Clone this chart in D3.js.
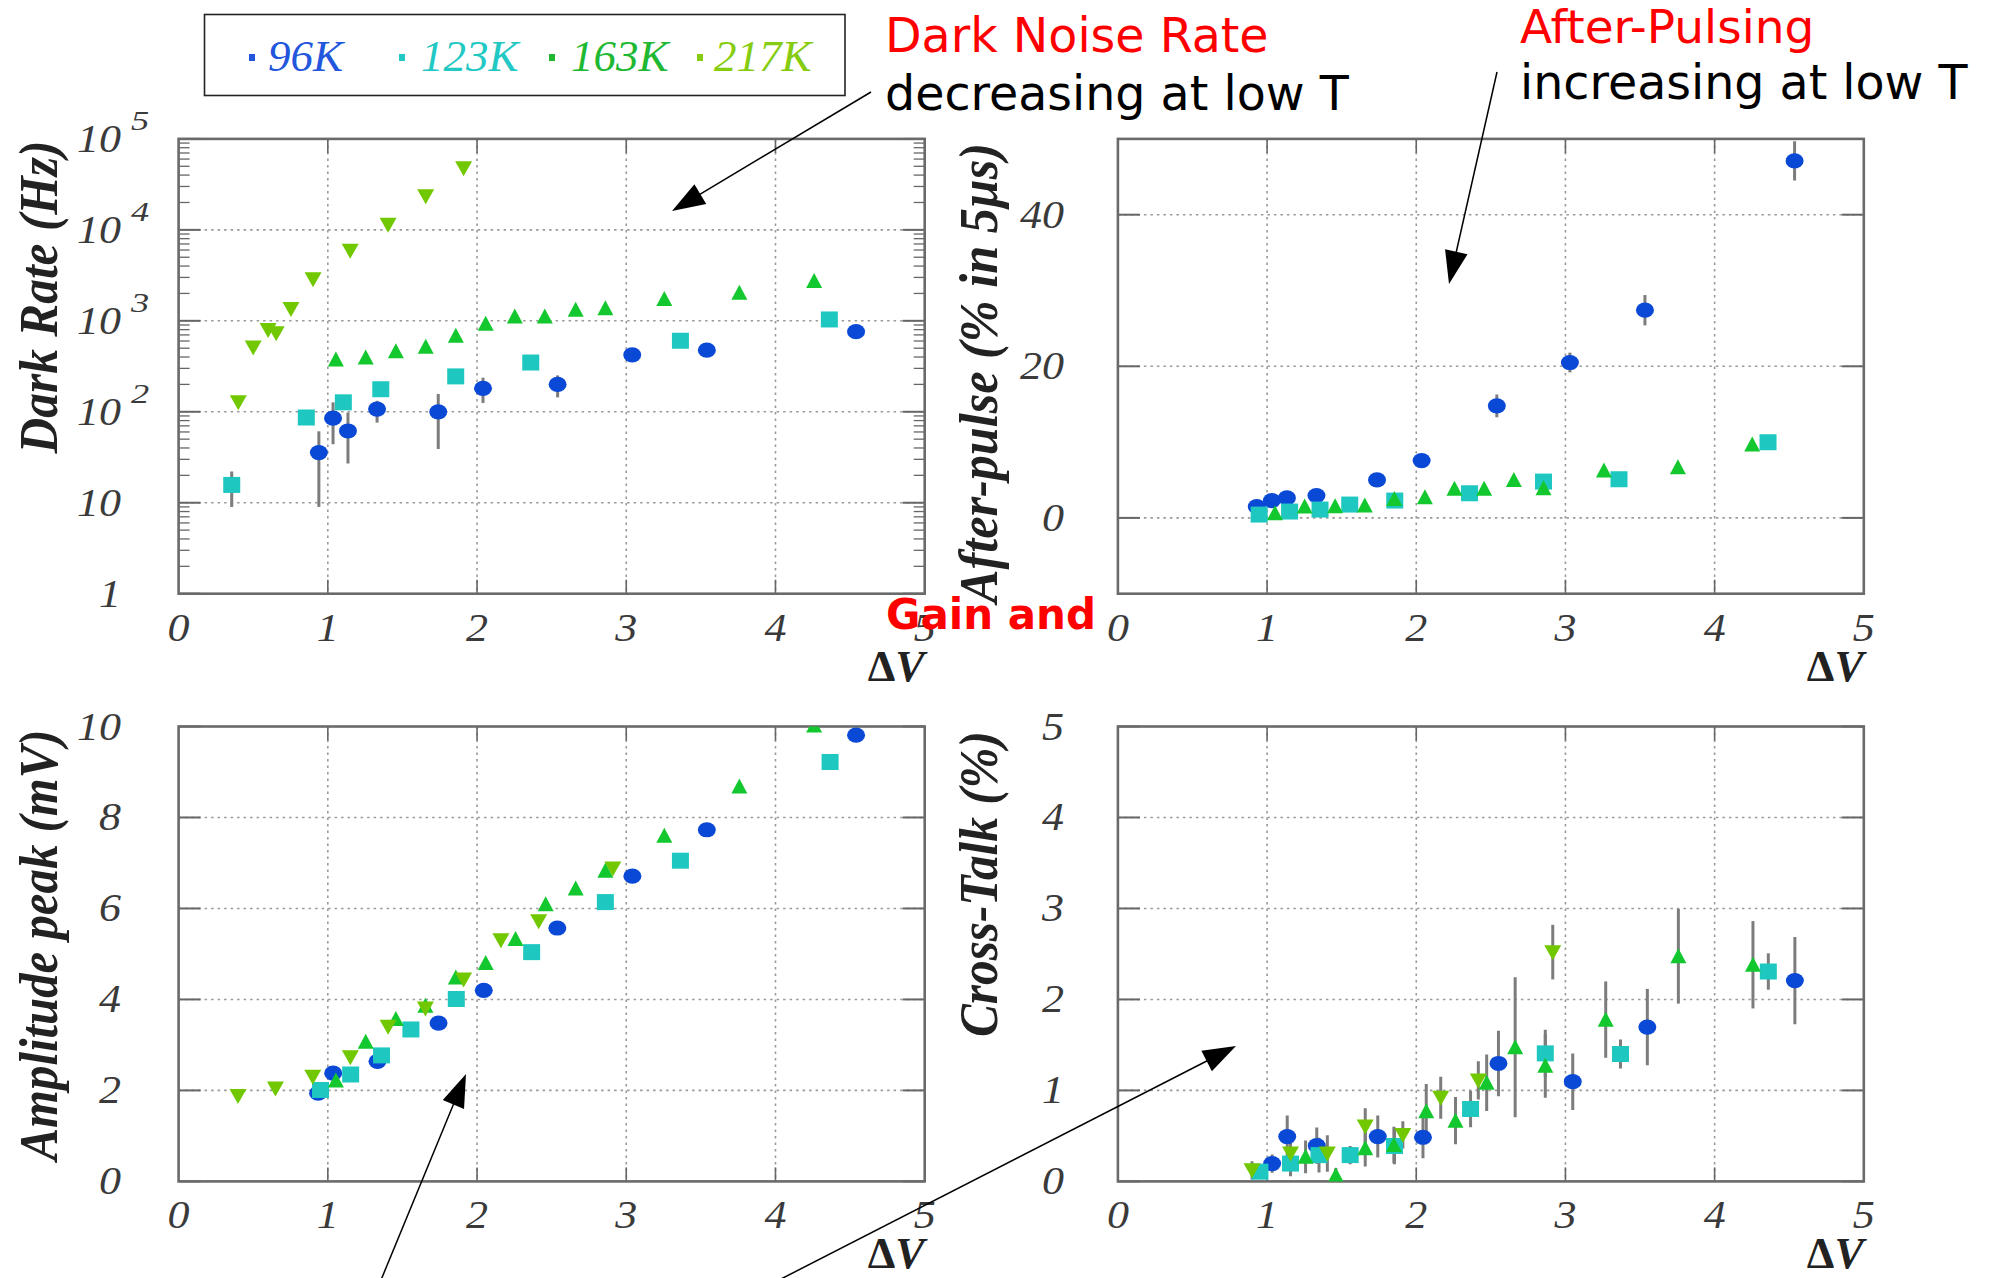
<!DOCTYPE html>
<html><head><meta charset="utf-8">
<script src="https://cdn.jsdelivr.net/npm/d3@7"></script>
<style>body{margin:0;background:#fff}svg{display:block}</style>
</head><body><svg id="c" width="1993" height="1278"></svg>
<script>
// ---------------- DATA ----------------
const seriesNames = ["96K", "123K", "163K", "217K"];
const dVTicks = [0, 1, 2, 3, 4, 5];
const darkTicks = [1, 10, 100, 1000, 10000, 100000];
const apTicks = [0, 20, 40];
const ampTicks = [0, 2, 4, 6, 8, 10];
const ctTicks = [0, 1, 2, 3, 4, 5];

// Dark rate (Hz): [dV, value, errLow, errHigh]
const dark96 = [[0.94,35.6,9,61],[1.035,85,44,127],[1.135,61.5,27,98],[1.33,107,76,132],[1.74,100,39,157],[2.04,181,125,237],[2.54,200,144,251],[3.04,423,385,460],[3.54,476,null,null],[4.54,760,null,null]];
const dark123 = [[0.356,15.7,9,22],[0.856,86.5,null,null],[1.104,127,null,null],[1.355,177,null,null],[1.857,245,null,null],[2.36,348,null,null],[3.363,604,null,null],[4.361,1035,null,null]];
const dark163 = [[1.054,375],[1.254,395],[1.456,464],[1.656,519],[1.858,687],[2.058,926],[2.253,1117],[2.454,1117],[2.661,1325],[2.86,1371],[3.255,1741],[3.758,2029],[4.259,2735]];
const dark217 = [[0.40,127],[0.50,510],[0.60,794],[0.654,730],[0.753,1349],[0.901,2856],[1.15,5890],[1.404,11370],[1.656,23450],[1.91,47600]];

// After-pulse (% in 5us): [dV, value, err]
const ap96 = [[0.931,1.5,0],[1.032,2.29,0],[1.133,2.64,0],[1.331,2.95,0],[1.737,5.01,0],[2.036,7.56,0],[2.54,14.78,1.5],[3.03,20.5,1.3],[3.533,27.4,2.0],[4.536,47.1,2.6]];
const ap123 = [[0.947,0.44,0],[1.151,0.84,0],[1.355,1.1,0],[1.554,1.76,0],[1.856,2.29,0],[2.357,3.25,0],[2.853,4.79,0],[3.359,5.1,0],[4.358,9.98,0]];
const ap163 = [[1.053,0.62,0],[1.252,1.5,0],[1.456,1.54,0],[1.655,1.63,0],[1.853,2.5,0],[2.058,2.73,0],[2.256,3.83,0],[2.455,3.83,0],[2.654,5.0,0],[2.853,3.9,0],[3.258,6.24,0],[3.754,6.68,0],[4.252,9.67,0]];
const ap217 = [];

// Amplitude peak (mV): [dV, value]
const amp96 = [[0.935,1.94],[1.036,2.38],[1.333,2.64],[1.742,3.48],[2.045,4.2],[2.538,5.57],[3.041,6.71],[3.54,7.73],[4.54,9.81]];
const amp123 = [[0.951,2.01],[1.153,2.35],[1.36,2.77],[1.557,3.34],[1.861,4.01],[2.366,5.04],[2.86,6.14],[3.363,7.05],[4.366,9.22]];
const amp163 = [[1.054,2.22],[1.254,3.07],[1.456,3.57],[1.654,3.86],[1.858,4.48],[2.058,4.8],[2.258,5.33],[2.46,6.09],[2.661,6.44],[2.86,6.83],[3.255,7.6],[3.758,8.68],[4.259,10.02]];
const amp217 = [[0.398,1.88],[0.649,2.04],[0.899,2.30],[1.151,2.73],[1.404,3.40],[1.654,3.80],[1.91,4.44],[2.16,5.30],[2.413,5.72],[2.91,6.88]];

// Cross-talk (%): [dV, value, err]
const ct96 = [[1.034,0.196,0.1],[1.135,0.493,0.23],[1.333,0.393,0.2],[1.742,0.493,0.23],[2.045,0.485,0.23],[2.551,1.296,0.36],[3.049,1.096,0.31],[3.549,1.696,0.42],[4.538,2.207,0.48]];
const ct123 = [[0.952,0.107,0],[1.157,0.196,0.1],[1.348,0.289,0.19],[1.557,0.289,0.1],[1.854,0.389,0.2],[2.364,0.796,0.2],[2.865,1.407,0.26],[3.369,1.4,0.16],[4.36,2.307,0.2]];
const ct163 = [[1.258,0.27,0.18],[1.461,0.067,0.08],[1.658,0.363,0.2],[1.85,0.4,0.2],[2.067,0.77,0.3],[2.263,0.667,0.26],[2.472,1.085,0.31],[2.663,1.474,0.77],[2.865,1.27,0.35],[3.27,1.778,0.42],[3.757,2.474,0.52],[4.257,2.381,0.48]];
const ct217 = [[0.899,0.122,0.1],[1.157,0.307,0.25],[1.404,0.307,0.2],[1.658,0.604,0.2],[1.91,0.511,0.15],[2.164,0.919,0.23],[2.416,1.11,0.21],[2.915,2.52,0.3]];

// ---------------- STYLE ----------------
const colors = {"96K":"#0a48d6","123K":"#1ec8c0","163K":"#12c82e","217K":"#72c800"};
const legendColors = {"96K":"#2256dc","123K":"#22c8c4","163K":"#1eb832","217K":"#86cc10"};
const shapes = {"96K":"circle","123K":"square","163K":"up","217K":"down"};
const serif = "'Liberation Serif','Times New Roman',serif";
const sans = "'DejaVu Sans',sans-serif";

const svg = d3.select("#c");

function drawMarker(g, kind, cx, cy, col) {
  if (kind === "circle") g.append("ellipse").attr("cx",cx).attr("cy",cy).attr("rx",9).attr("ry",7.6).attr("fill",col);
  else if (kind === "square") g.append("rect").attr("x",cx-8.5).attr("y",cy-8).attr("width",17).attr("height",16).attr("fill",col);
  else if (kind === "up") g.append("path").attr("d",`M${cx},${cy-8}L${cx+8},${cy+7}L${cx-8},${cy+7}Z`).attr("fill",col);
  else g.append("path").attr("d",`M${cx},${cy+8}L${cx+8.5},${cy-7}L${cx-8.5},${cy-7}Z`).attr("fill",col);
}

function panel(cfg) {
  const {x0,x1,y0,y1,id} = cfg;
  const g = svg.append("g");
  const x = d3.scaleLinear().domain([0,5]).range([x0,x1]);
  const y = cfg.log ? d3.scaleLog().domain([1,1e5]).range([y1,y0]) : d3.scaleLinear().domain(cfg.ydom).range([y1,y0]);
  // gridlines
  dVTicks.filter(t => t>0 && t<5).forEach(t => {
    g.append("line").attr("x1",x(t)).attr("x2",x(t)).attr("y1",y0).attr("y2",y1)
      .attr("stroke","#9a9a9a").attr("stroke-width",1.6).attr("stroke-dasharray","2.5,4");
  });
  cfg.yticks.forEach(t => {
    const yy = y(t);
    if (Math.abs(yy-y0) < 2 || Math.abs(yy-y1) < 2) return;
    g.append("line").attr("x1",x0).attr("x2",x1).attr("y1",yy).attr("y2",yy)
      .attr("stroke","#9a9a9a").attr("stroke-width",1.6).attr("stroke-dasharray","2.5,4");
  });
  // ticks
  const tk = (xa,ya,xb,yb,w) => g.append("line").attr("x1",xa).attr("y1",ya).attr("x2",xb).attr("y2",yb).attr("stroke","#666").attr("stroke-width",w||1.6);
  dVTicks.filter(t => t>0 && t<5).forEach(t => { tk(x(t),y1,x(t),y1-14); tk(x(t),y0,x(t),y0+14); });
  cfg.yticks.forEach(t => { tk(x0,y(t),x0+22,y(t),2); tk(x1,y(t),x1-22,y(t),2); });
  if (cfg.log) {
    for (let e=0; e<5; e++) for (let m=2; m<10; m++) {
      const v = m*Math.pow(10,e);
      tk(x0,y(v),x0+11,y(v),1.3); tk(x1,y(v),x1-11,y(v),1.3);
    }
  }
  // frame
  g.append("rect").attr("x",x0).attr("y",y0).attr("width",x1-x0).attr("height",y1-y0)
    .attr("fill","none").attr("stroke","#6a6a6a").attr("stroke-width",2.6);
  // x tick labels
  dVTicks.forEach(t => {
    g.append("text").attr("transform",`translate(${x(t)},${y1+47}) scale(1.1,1)`)
      .attr("text-anchor","middle").attr("font-family",serif).attr("font-style","italic")
      .attr("font-size",40).attr("fill","#3a3a3a").text(t);
  });
  // y tick labels
  const xr = x0 - cfg.labOff;
  cfg.yticks.forEach(t => {
    const yy = y(t);
    if (cfg.log && t >= 100) {
      const e = Math.round(Math.log10(t));
      g.append("text").attr("transform",`translate(${xr},${yy+13}) scale(1.1,1)`)
        .attr("text-anchor","end").attr("font-family",serif).attr("font-style","italic")
        .attr("font-size",40).attr("fill","#3a3a3a").text("10");
      g.append("text").attr("transform",`translate(${xr+10},${yy-9}) scale(1.3,1)`)
        .attr("text-anchor","start").attr("font-family",serif).attr("font-style","italic")
        .attr("font-size",28).attr("fill","#3a3a3a").text(e);
    } else {
      g.append("text").attr("transform",`translate(${xr},${yy+13}) scale(1.1,1)`)
        .attr("text-anchor","end").attr("font-family",serif).attr("font-style","italic")
        .attr("font-size",40).attr("fill","#3a3a3a").text(t);
    }
  });
  // ΔV label
  const dl = g.append("text").attr("x",x1).attr("y",y1+87).attr("text-anchor","end")
    .attr("font-family",serif).attr("font-weight","bold").attr("font-size",44).attr("fill","#222");
  dl.append("tspan").text("Δ");
  dl.append("tspan").attr("font-style","italic").text("V");
  // y title
  svg.append("text").attr("transform",`translate(${cfg.titleX},${cfg.titleY}) rotate(-90)`)
    .attr("text-anchor","middle").attr("font-family",serif).attr("font-style","italic").attr("font-weight","bold")
    .attr("font-size",55).attr("fill","#222")
    .attr("textLength",cfg.titleLen).attr("lengthAdjust","spacingAndGlyphs").text(cfg.title);
  // data
  const clip = svg.append("clipPath").attr("id","clip"+id);
  clip.append("rect").attr("x",x0).attr("y",y0).attr("width",x1-x0).attr("height",y1-y0);
  const dg = svg.append("g").attr("clip-path",`url(#clip${id})`);
  cfg.data.forEach((arr) => {
    arr.forEach(d => {
      let lo = null, hi = null;
      if (cfg.log) { if (d[2] != null) { lo = d[2]; hi = d[3]; } }
      else if (d[2]) { lo = d[1]-d[2]; hi = d[1]+d[2]; }
      if (lo != null) dg.append("line").attr("x1",x(d[0])).attr("x2",x(d[0])).attr("y1",y(lo)).attr("y2",y(hi))
        .attr("stroke","#7c7c7c").attr("stroke-width",3);
    });
  });
  cfg.data.forEach((arr, i) => {
    const name = seriesNames[i];
    arr.forEach(d => drawMarker(dg, shapes[name], x(d[0]), y(d[1]), colors[name]));
  });
}

panel({id:1,x0:178.6,x1:924.7,y0:138.9,y1:593.7,log:true,yticks:darkTicks,labOff:57.6,
  title:"Dark Rate (Hz)",titleX:57,titleY:297,titleLen:313,data:[dark96,dark123,dark163,dark217]});
panel({id:2,x0:1117.9,x1:1863.8,y0:138.9,y1:593.7,ydom:[-10,50],yticks:apTicks,labOff:54,
  title:"After-pulse (% in 5µs)",titleX:997,titleY:373,titleLen:460,data:[ap96,ap123,ap163,ap217]});
panel({id:3,x0:178.6,x1:924.7,y0:726.5,y1:1181.4,ydom:[0,10],yticks:ampTicks,labOff:57.6,
  title:"Amplitude peak (mV)",titleX:57,titleY:945,titleLen:431,data:[amp96,amp123,amp163,amp217]});
panel({id:4,x0:1117.9,x1:1863.8,y0:726.5,y1:1181.4,ydom:[0,5],yticks:ctTicks,labOff:54,
  title:"Cross-Talk (%)",titleX:997,titleY:884,titleLen:306,data:[ct96,ct123,ct163,ct217]});

// ---------------- LEGEND ----------------
svg.append("rect").attr("x",204.5).attr("y",14.5).attr("width",640.5).attr("height",81)
  .attr("fill","#fff").attr("stroke","#222").attr("stroke-width",1.6);
const legX = [252, 402, 552, 700];
const legT = [268, 421, 571, 714];
seriesNames.forEach((n,i) => {
  svg.append("rect").attr("x",legX[i]-3).attr("y",54).attr("width",6).attr("height",7).attr("fill",legendColors[n]);
  svg.append("text").attr("x",legT[i]).attr("y",71).attr("font-family",serif).attr("font-style","italic")
    .attr("font-size",45).attr("fill",legendColors[n]).text(n);
});

// ---------------- ANNOTATIONS ----------------
function ann(x, y, txt, col, size, weight) {
  svg.append("text").attr("x",x).attr("y",y).attr("font-family",sans).attr("font-size",size)
    .attr("font-weight",weight||"normal").attr("fill",col).text(txt);
}
ann(885, 52, "Dark Noise Rate", "#ff0000", 47.5);
ann(885, 110, "decreasing at low T", "#000", 47.5);
ann(1520, 43, "After-Pulsing", "#ff0000", 47);
ann(1520, 99, "increasing at low T", "#000", 47.5);
ann(886, 629, "Gain and", "#ff0000", 42, "bold");

function arrow(xa, ya, xb, yb) {
  const L = 33, Wd = 11.5;
  const dx = xb-xa, dy = yb-ya, len = Math.hypot(dx,dy);
  const ux = dx/len, uy = dy/len;
  const bx = xb-ux*L, by = yb-uy*L;
  svg.append("line").attr("x1",xa).attr("y1",ya).attr("x2",bx+ux*4).attr("y2",by+uy*4)
    .attr("stroke","#000").attr("stroke-width",1.5);
  svg.append("path").attr("d",`M${xb},${yb}L${bx-uy*Wd},${by+ux*Wd}L${bx+uy*Wd},${by-ux*Wd}Z`).attr("fill","#000");
}
arrow(871, 92, 672, 211);
arrow(1497, 72, 1449, 284);
arrow(381, 1280, 466, 1074);
arrow(779, 1280, 1236, 1046);
</script></body></html>
